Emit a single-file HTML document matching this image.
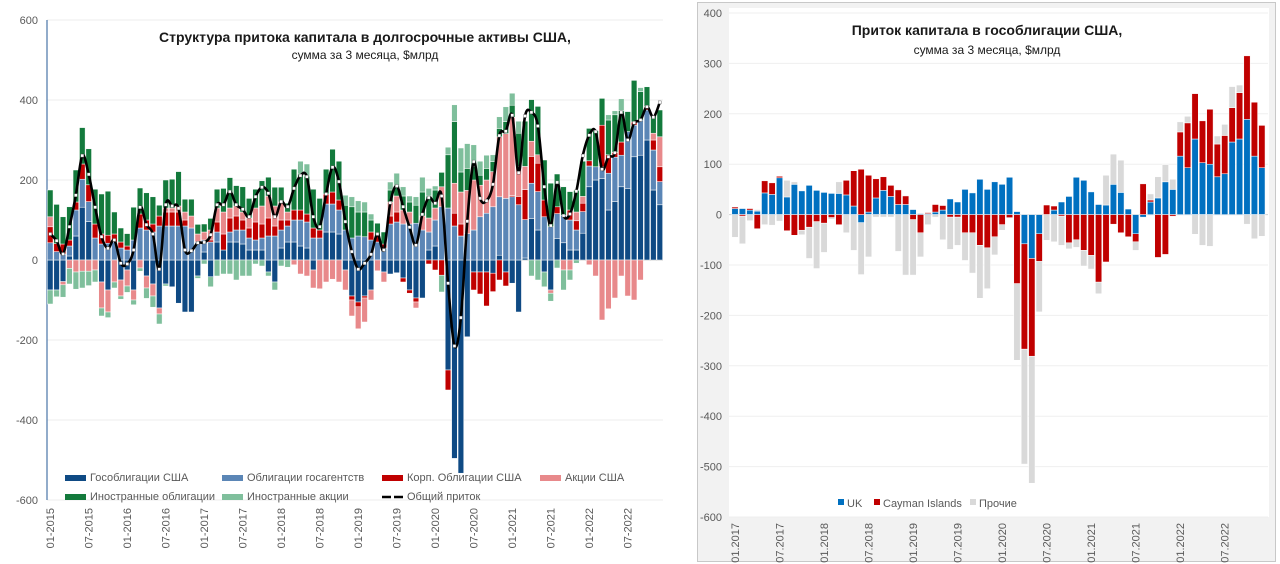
<!DOCTYPE html>
<html><head><meta charset="utf-8">
<style>
html,body{margin:0;padding:0;background:#fff;}
svg{display:block;font-family:"Liberation Sans","DejaVu Sans",sans-serif;}
</style></head>
<body>
<svg id="root" width="1280" height="564" viewBox="0 0 1280 564" xmlns="http://www.w3.org/2000/svg">
  <rect x="0" y="0" width="1280" height="564" fill="#ffffff"/>
  <g id="left">
    <text x="365" y="42" text-anchor="middle" font-size="14" font-weight="bold" fill="#1a1a1a">Структура притока капитала  в долгосрочные активы США,</text>
    <text x="365" y="59" text-anchor="middle" font-size="12" fill="#1a1a1a">сумма за 3 месяца, $млрд</text>
  </g>
  <g id="right">
    <rect x="697.5" y="2.5" width="578" height="559" fill="#f2f2f2" stroke="#c8c8c8"/>
    <rect x="729" y="8" width="540" height="509" fill="#ffffff"/>
    <text x="987" y="35" text-anchor="middle" font-size="14" font-weight="bold" fill="#1a1a1a">Приток капитала в гособлигации США,</text>
    <text x="987" y="54" text-anchor="middle" font-size="12" fill="#1a1a1a">сумма за 3 месяца, $млрд</text>
  </g>
</svg>
<script>
// ===== LEFT CHART DATA =====
const leftTicks = [-600,-400,-200,0,200,400,600];
const leftSeriesNames = ["Гособлигации США","Облигации госагентств","Корп. Облигации США","Акции США","Иностранные облигации","Иностранные акции"];
const govBonds = [-75,-75,-54,10,60,132,96,0,-55,-75, 0,-50,-25,-75,0,-40,-60,-120,-60,-67, -108,-130,-130,-40,20,-42,45,25,45,45, 40,25,25,25,-30,-55,30,45,45,35, 30,-25,0,70,70,65,-25,-90,-105, -90,-75,0,-30,-35,-32,-45,-75,-95,-95,25,35, 0,-275,-496,-533,-192,-30,-30,-30,-33,12,-30,-58,-130,5,104,75,-30,-75, 54,43,25,25,67,183,200,204,125,146,183,179,258,262,300,175,138];
const agencyBonds = [43,21,15,25,65,70,50,55,40,42, 45,30,25,50,80,75,70,85,85,85, 85,85,80,45,30,45,25,0,25,30, 35,30,25,30,60,60,45,40,55,65, 65,55,55,70,70,60,75,55,60, 58,50,45,30,90,95,90,90,92,75,45,65, 133,130,85,60,66,75,108,117,133,146,154,158,138,96,88,96,108,83, 62,69,75,50,54,52,33,29,92,111,79,142,79,88,75,100,58];
const corpBonds = [40,20,25,15,20,38,42,35,25,20, 20,15,10,0,35,25,20,25,35,35, 35,15,0,0,0,5,25,40,35,35, 25,25,45,35,45,25,25,15,25,25, 20,25,20,25,30,25,0,-10,-12, -5,20,15,10,20,25,-10,-8,-10,0,-10,-25, -38,-50,32,30,0,-45,-55,-85,-46,-50,-35,3,21,75,67,71,42,0, 17,0,25,23,21,13,0,104,46,12,33,0,8,0,8,25,37];
const usEquities = [25,0,-8,-21,-30,-28,-28,-25,-65,-55, -55,-40,-40,-25,-20,-30,-30,-15,10,10, 15,20,30,20,20,25,35,55,25,25, 20,25,35,45,55,50,45,20,-12,-35, -40,-45,-72,-55,-48,-55,-50,-40,-55, -60,-25,-27,-25,35,40,35,30,-15,35,35,30, 50,0,75,80,108,125,79,83,88,150,162,196,75,58,38,21,0,-8, 0,-25,-25,22,17,-12,-40,-150,-122,-95,-40,-90,-100,-50,0,17,75];
const foreignBonds = [67,98,68,83,80,91,90,87,100,110, 55,35,31,82,65,68,68,27,70,72, 86,32,42,24,20,29,47,59,76,51, 63,49,47,63,47,47,37,22,102,90, 95,97,79,62,107,97,62,78,60, 62,30,32,30,30,25,35,25,45,60,55,45, 36,133,154,50,55,33,25,29,25,21,30,30,83,113,104,121,100,109, 82,71,46,54,88,81,90,67,87,94,79,50,104,71,50,42,67];
const foreignEquities = [-35,-17,-31,-39,-43,-42,-36,-30,-20,-14, -15,-8,-16,-12,-8,-26,-28,-25,-5,0, 0,0,0,-6,-10,-25,-40,-35,-35,-50, -40,-40,-10,-15,-10,-20,-15,-18,0,32, 30,0,0,0,0,0,25,25,28, 25,15,0,0,20,32,23,15,21,37,19,10, -42,19,42,60,62,55,35,33,17,29,37,30,30,0,-40,-50,-37,-20, -20,-50,-25,-8,0,0,0,0,13,10,29,0,0,10,0,0,0];
const totalFlow = [65,48,15,83,162,261,214,132,58,29, 50,-8,-10,25,132,88,65,-23,138,135, 129,25,23,43,44,63,138,138,171,138, 127,108,158,182,167,108,146,133,179,211, 208,108,83,165,232,196,96,21,-23, -8,14,65,25,143,185,133,82,37,114,156,142, 160,-58,-215,-144,97,246,154,148,189,311,322,362,218,360,369,335,183,86, 194,111,115,172,261,312,321,227,258,268,369,300,343,350,383,357,394];
const leftXLabels = ["01-2015","07-2015","01-2016","07-2016","01-2017","07-2017","01-2018","07-2018","01-2019","07-2019","01-2020","07-2020","01-2021","07-2021","01-2022","07-2022"];

// ===== RIGHT CHART DATA =====
const rightTicks = [-600,-500,-400,-300,-200,-100,0,100,200,300,400];
const rightSeriesNames = ["UK","Cayman Islands","Прочие"];
const ukValues = [12,12,9,7,43,40,73,35,60,47, 58,48,44,42,42,39,17,-16,5,33, 48,36,20,20,10,2,2,5,9,31, 25,50,43,70,50,65,60,74,6,-58, -87,-38,0,9,25,36,74,68,45,20, 19,60,44,11,-38,-5,25,33,65,50, 116,93,150,103,100,75,81,144,150,189, 116,93];
const caymanValues = [3,-3,3,-28,24,23,3,-32,-41,-31, -25,-14,-17,-6,-20,29,70,90,73,38, 27,22,29,17,-10,-36,2,15,9,-5, -5,-36,-36,-61,-66,-44,-20,-6,-137,-209, -194,-55,19,8,-3,-56,-50,-71,-81,-134, -94,-19,-36,-44,-16,61,4,-85,-79,-3, 48,89,90,83,109,65,76,68,92,126, 107,84];
const otherValues = [-45,-55,-12,3,-20,-21,-13,33,5,-9, -62,-93,-58,-3,23,-36,-71,-103,-84,-5, -5,-5,-73,-120,-110,-48,-20,-5,-50,-64, -56,-55,-80,-105,-81,-36,-11,0,-152,-228, -252,-100,-51,-54,-58,-12,-15,-31,-27,-23, 59,60,64,0,-17,0,12,42,34,20, 20,13,-39,-61,-63,16,22,42,15,-19, -48,-43];
const rightXLabels = ["01.2017","07.2017","01.2018","07.2018","01.2019","07.2019","01.2020","07.2020","01.2021","07.2021","01.2022","07.2022"];

const NS = "http://www.w3.org/2000/svg";
function mk(tag, attrs, parent){const e=document.createElementNS(NS,tag);for(const k in attrs)e.setAttribute(k,attrs[k]);parent.appendChild(e);return e;}

// ---------- LEFT ----------
(function(){
  const g = document.getElementById('left');
  const X0=47, X1=663, Y0=20, Y1=500, VMIN=-600, VMAX=600;
  const n = totalFlow.length;
  const slot=(X1-X0)/n;
  const y = v => Y1 - (v-VMIN)/(VMAX-VMIN)*(Y1-Y0);
  const xc = i => X0 + slot*(i+0.5);
  leftTicks.forEach(t=>{
    const gl = mk('line',{x1:X0,x2:X1,y1:y(t),y2:y(t),stroke:t===0?'#a6a6a6':'#ececec','stroke-width':1},g);
    
    
    const tl = mk('text',{x:38,y:y(t)+4,'text-anchor':'end','font-size':11,fill:'#595959'},g);
    tl.textContent=String(t);
    
    
  });
  const ax = mk('line',{x1:X0,x2:X0,y1:Y0,y2:Y1,stroke:'#4a74a8','stroke-width':1.2},g);
  
  
  const series=[govBonds,agencyBonds,corpBonds,usEquities,foreignBonds,foreignEquities];
  const colors=['#0f4a84','#5b86b6','#c00000','#e8898b','#137a3c','#7fbf9c'];
  const names=['bar-gov-bonds','bar-agency-bonds','bar-corp-bonds','bar-us-equities','bar-foreign-bonds','bar-foreign-equities'];
  const bw=slot*0.88;
  for(let i=0;i<n;i++){
    let pos=0,neg=0;
    series.forEach((s,k)=>{
      const v=s[i]; if(!v) return;
      let a,b;
      if(v>0){a=pos;b=pos+v;pos=b;} else {a=neg;b=neg+v;neg=b;}
      const r=mk('rect',{x:xc(i)-bw/2,y:Math.min(y(a),y(b)),width:bw,height:Math.abs(y(a)-y(b)),fill:colors[k],stroke:'#ffffff','stroke-width':0.5},g);
      
      
    });
  }
  // smooth total line
  const pts=totalFlow.map((v,i)=>[xc(i),y(v)]);
  let d='M'+pts[0][0]+','+pts[0][1];
  for(let i=0;i<pts.length-1;i++){
    const p0=pts[Math.max(0,i-1)],p1=pts[i],p2=pts[i+1],p3=pts[Math.min(pts.length-1,i+2)];
    const c1=[p1[0]+(p2[0]-p0[0])/6,p1[1]+(p2[1]-p0[1])/6];
    const c2=[p2[0]-(p3[0]-p1[0])/6,p2[1]-(p3[1]-p1[1])/6];
    d+=' C'+c1[0]+','+c1[1]+' '+c2[0]+','+c2[1]+' '+p2[0]+','+p2[1];
  }
  const ln=mk('path',{d:d,fill:'none',stroke:'#000','stroke-width':2.6},g);
  
  
  pts.forEach(p=>{
    const m=mk('rect',{x:p[0]-1.5,y:p[1]-1.5,width:3,height:3,fill:'#fff',stroke:'#555','stroke-width':0.4},g);
    
    
  });
  leftXLabels.forEach((lab,j)=>{
    const x=xc(j*6)+4;
    const t=mk('text',{x:x,y:508,'text-anchor':'end','font-size':11,fill:'#595959',transform:'rotate(-90 '+x+' 508)'},g);
    t.textContent=lab;
    
    
  });
  // legend
  const leg=[[65,481,0],[222,481,1],[382,481,2],[540,481,3],[65,500,4],[222,500,5]];
  leg.forEach(([lx,ly,k])=>{
    const sw=mk('rect',{x:lx,y:ly-6,width:21,height:6,fill:colors[k]},g);
    
    
    const t=mk('text',{x:lx+25,y:ly,'font-size':11,fill:'#595959'},g);
    t.textContent=leftSeriesNames[k];
    
    
  });
  const ll=mk('line',{x1:382,x2:403,y1:497,y2:497,stroke:'#000','stroke-width':2.6},g);
  
  
  const lm=mk('rect',{x:391,y:495.5,width:3,height:3,fill:'#fff'},g);
  
  
  const lt=mk('text',{x:407,y:500,'font-size':11,fill:'#595959'},g);
  lt.textContent='Общий приток';
  
  
})();

// ---------- RIGHT ----------
(function(){
  const g=document.getElementById('right');
  const VMIN=-600,VMAX=400,Y0=13,Y1=517,X0=731.3,slot=7.42;
  const y=v=>Y1-(v-VMIN)/(VMAX-VMIN)*(Y1-Y0);
  const xc=i=>X0+slot*(i+0.5);
  const X1=X0+slot*ukValues.length;
  rightTicks.forEach(t=>{
    const gl=mk('line',{x1:729,x2:1268,y1:y(t),y2:y(t),stroke:t===0?'#d0d0d0':'#efefef','stroke-width':1},g);
    
    
    const tl=mk('text',{x:722,y:y(t)+4,'text-anchor':'end','font-size':11,fill:'#595959'},g);
    tl.textContent=String(t);
    
    
  });
  const series=[ukValues,caymanValues,otherValues];
  const colors=['#0070c0','#c00000','#d9d9d9'];
  const names=['bar-uk','bar-cayman','bar-other'];
  const bw=slot*0.86;
  for(let i=0;i<ukValues.length;i++){
    let pos=0,neg=0;
    series.forEach((s,k)=>{
      const v=s[i]; if(!v) return;
      let a,b;
      if(v>0){a=pos;b=pos+v;pos=b;} else {a=neg;b=neg+v;neg=b;}
      const r=mk('rect',{x:xc(i)-bw/2,y:Math.min(y(a),y(b)),width:bw,height:Math.abs(y(a)-y(b)),fill:colors[k],stroke:'#ffffff','stroke-width':0.5},g);
      
      
    });
  }
  rightXLabels.forEach((lab,j)=>{
    const x=xc(j*6)+4;
    const t=mk('text',{x:x,y:523,'text-anchor':'end','font-size':11,fill:'#595959',transform:'rotate(-90 '+x+' 523)'},g);
    t.textContent=lab;
    
    
  });
  const leg=[[838,0],[874,1],[970,2]];
  leg.forEach(([lx,k])=>{
    const sw=mk('rect',{x:lx,y:499,width:6,height:6,fill:colors[k]},g);
    
    
    const t=mk('text',{x:lx+9,y:507,'font-size':11,fill:'#595959'},g);
    t.textContent=rightSeriesNames[k];
    
    
  });
})();
</script>
</body></html>
